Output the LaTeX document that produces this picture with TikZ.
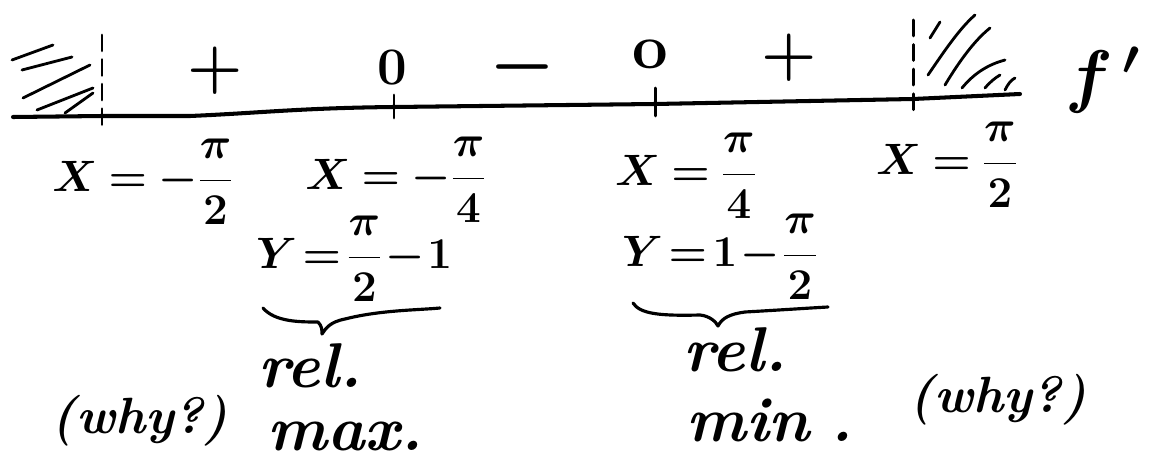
\RequirePackage{fix-cm}
\documentclass[tikz,border=0pt]{standalone}
\usepackage{amsmath}
\usetikzlibrary{calc}
\newcommand{\tightmu}{\thickmuskip=2mu\relax\medmuskip=1mu\relax}
\newcommand{\midmu}{\thickmuskip=4mu\relax\medmuskip=3mu\relax}
\begin{document}
\begin{tikzpicture}[x=0.02cm,y=-0.02cm,line width=1.7pt,line cap=round,line join=round,
  lab/.style={font=\fontsize{25}{30}\selectfont\boldmath,inner sep=0pt},
  sgn/.style={font=\fontsize{36}{42}\selectfont,inner sep=0pt},
  minus/.style={font=\fontsize{42}{48}\selectfont,inner sep=0pt},
  note/.style={font=\fontsize{36}{40}\selectfont\bfseries\itshape,inner sep=0pt},
  why/.style={font=\fontsize{29}{34}\selectfont\bfseries\itshape,inner sep=0pt},
  axisline/.style={line width=2.3pt},
  hatch/.style={line width=1.6pt},
  bracestyle/.style={line width=1.8pt},
  asym/.style={line width=1.7pt,dash pattern=on 9pt off 5pt}]
\useasboundingbox (0,0) rectangle (1170,466);
% axis
\coordinate (a0) at (13,117);
\coordinate (t1) at (102,116);
\coordinate (t2) at (394,107);
\coordinate (t3) at (655,104);
\coordinate (t4) at (913,99);
\coordinate (a1) at (1020,94);
\draw[axisline] (a0) -- (t1) -- (190,116) .. controls (260,113) and (300,108) .. (t2) -- (t3) -- (t4) -- (a1);
% ticks
\draw ($(t2)+(0,-12)$) -- ($(t2)+(0,11)$);
\draw ($(t3)+(0,-16)$) -- ($(t3)+(0,12)$);
\draw[asym] ($(t1)+(0,-81)$) -- ($(t1)+(0,14)$);
\draw[asym] ($(t4)+(0,-79)$) -- ($(t4)+(0,14)$);
% left hatching
\draw[hatch] (12,60) -- (53,45);
\draw[hatch] (22,70) -- (72,57);
\draw[hatch] (23,98) -- (90,65);
\draw[hatch] (37,110) -- (93,88);
\draw[hatch] (65,113) -- (93,93);
% right hatching
\draw[hatch] (930,38) -- (940,22);
\draw[hatch] (928,75) .. controls (945,50) and (960,28) .. (975,15);
\draw[hatch] (945,85) .. controls (960,60) and (975,40) .. (990,28);
\draw[hatch] (962,88) .. controls (975,72) and (990,64) .. (1005,60);
\draw[hatch] (985,88) .. controls (990,82) and (995,78) .. (1000,75);
\draw[hatch] (1005,90) .. controls (1008,84) and (1011,80) .. (1015,78);
% signs
\node[sgn] (p1) at (215,71) {$\boldsymbol{+}$};
\node[font=\fontsize{30}{34}\selectfont\bfseries,inner sep=0pt] (z1) at (392,68) {0};
\node[minus] (m1) at (522,67) {$\boldsymbol{-}$};
\node[font=\fontsize{36}{40}\selectfont\bfseries,inner sep=0pt] (z2) at (650,54) {o};
\node[sgn] (p2) at (789,58) {$\boldsymbol{+}$};
\node[font=\fontsize{40}{46}\selectfont\boldmath,inner sep=0pt] (fp) at (1103,80) {$f^{\,\prime}$};
% x labels
\node[lab] (x1) at (143,182) {$\midmu X=-\dfrac{\pi}{2}$};
\node[lab] (x2) at (396,180) {$\midmu X=-\dfrac{\pi}{4}$};
\node[lab] (x3) at (686,176) {$\midmu X=\dfrac{\pi}{4}$};
\node[lab] (x4) at (947,165) {$\midmu X=\dfrac{\pi}{2}$};
% y labels
\node[lab] (y1) at (354,259) {$\tightmu Y=\dfrac{\pi}{2}-1$};
\node[lab] (y2) at (720,257) {$\tightmu Y=1-\dfrac{\pi}{2}$};
% braces
\draw[bracestyle] (263,308) .. controls (275,322) and (300,322) .. (318,322) .. controls (322,326) and (322,330) .. (322,334)
   .. controls (326,328) and (330,322) .. (345,319) .. controls (380,310) and (420,310) .. (440,308);
\draw[bracestyle] (633,303) .. controls (640,314) and (660,316) .. (700,315) .. controls (710,316) and (716,322) .. (718,326)
   .. controls (722,318) and (730,314) .. (745,312) .. controls (780,310) and (810,308) .. (828,307);
% notes
\node[note] (r1) at (310,366) {rel.};
\node[note] (mx) at (345,436) {max.};
\node[note] (r2) at (735,350) {rel.};
\node[note] (mn) at (770,420) {min\,\,.};
\node[why] (w1) at (140,421) {(why?)};
\node[why] (w2) at (998,400) {(why?)};
\end{tikzpicture}
\end{document}
